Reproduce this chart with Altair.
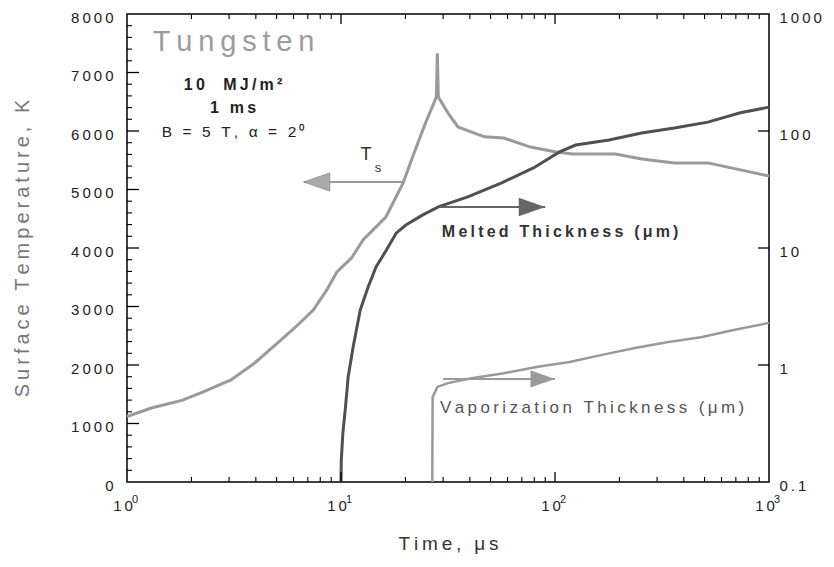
import altair as alt
import pandas as pd

# ---------------- data ----------------
# Surface temperature Ts (left axis, K) vs time (us)
ts_t = [1.0, 1.3, 1.82, 2.27, 3.06, 3.95, 4.92, 6.14, 7.42, 8.57, 9.57, 11.2, 12.7, 16.2, 19.5,
        21.6, 24.8, 27.9, 28.2, 28.5, 31.6, 35.2, 46.8, 57.7, 76.8, 101, 121, 191, 255, 361,
        518, 735, 1000]
ts_T = [1120, 1265, 1400, 1540, 1745, 2035, 2340, 2650, 2940, 3280, 3590, 3830, 4140, 4530, 5110,
        5555, 6135, 6580, 7330, 6580, 6310, 6070, 5900, 5880, 5725, 5640, 5605, 5605, 5520, 5455,
        5455, 5335, 5230]

# Melted thickness (right axis, um)
melt_t = [10.0, 10.03, 10.2, 10.5, 10.8, 11.4, 12.3, 13.4, 14.6, 16.3, 18.1, 20.1, 24.0, 28.5,
          39.1, 56.0, 79.3, 105, 125, 179, 254, 361, 518, 735, 1000]
melt_v = [0.1, 0.154, 0.26, 0.44, 0.79, 1.43, 2.95, 4.66, 6.92, 9.6, 13.4, 15.7, 19.1, 22.5,
          27.3, 35.9, 48.3, 66.2, 75.9, 83.8, 96.2, 106, 119, 143, 160]

# Vaporization thickness (right axis, um)
vap_t = [26.7, 26.8, 28.2, 31.6, 40.7, 57.7, 81.8, 117, 166, 236, 339, 481, 683, 1000]
vap_v = [0.1, 0.53, 0.65, 0.70, 0.77, 0.85, 0.96, 1.06, 1.22, 1.40, 1.57, 1.73, 1.99, 2.29]

# axes
left_vals = [0, 1000, 2000, 3000, 4000, 5000, 6000, 7000, 8000]
left_minor = [v for v in range(0, 8001, 200) if v % 1000]
right_vals = [0.1, 1, 10, 100, 1000]
right_marks = [1, 10, 100]
x_vals = [1, 10, 100, 1000]
x_base = ["10", "10", "10", "10"]
x_exp = ["0", "1", "2", "3"]
x_major_marks = [10, 100]
x_minor = [m * 10 ** e for e in range(3) for m in range(2, 10)]

# arrows: (start t, end/tip t, level)
ts_arrow = (19.5, 6.7, 5128)
melt_arrow = (29.0, 90.0, 22.4)
vap_arrow = (30.0, 100.0, 0.76)

# annotation anchors (t, value on left axis)
tung_pos = (1.32, 7368)
note_pos_t = 3.13
note_T = [6700, 6308, 5897]
tsym_pos = (13.1, 5504)
tsub_pos = (14.9, 5299)
melt_lab_pos = (29.6, 4188)
vap_lab_pos = (29.0, 1180)

# ---------------- helpers ----------------
TS = "\u2009"
NB = "\u00a0"
def sp(s):
    return TS.join(s.replace(" ", NB))

FONT = "Liberation Sans"
W, H = 642, 468

def label_expr(vals, labels):
    parts = [f"datum.value == {v} ? '{l}'" for v, l in zip(vals, labels)]
    return " : ".join(parts) + " : ''"

x_axis = alt.Axis(values=x_vals, ticks=False, domain=False, grid=False, labels=False,
                  title=sp("Time, \u03bcs"), titleFont=FONT, titleFontSize=19,
                  titleFontWeight="normal", titleColor="#333", titlePadding=52)
left_axis = alt.Axis(values=left_vals, ticks=False, domain=False, grid=False,
                     labelExpr=label_expr(left_vals, [sp(str(v)) for v in left_vals]),
                     labelFont=FONT, labelFontSize=15, labelColor="#222", labelPadding=14,
                     labelOffset=3, labelFlush=False, labelOverlap=False,
                     title=sp("Surface Temperature, K"), titleFont=FONT, titleFontSize=20,
                     titleFontWeight="normal", titleColor="#777",
                     titleX=-105, titleY=H / 2, titleAngle=270, titleBaseline="middle",
                     titleAlign="center")
right_axis = alt.Axis(orient="right", values=right_vals, ticks=False, domain=False, grid=False,
                      labelExpr=label_expr(right_vals, [sp(str(v)) for v in right_vals]),
                      labelFont=FONT, labelFontSize=15, labelColor="#222", labelPadding=10,
                      labelOffset=3, labelFlush=False, labelOverlap=False, title=None)

xsc = alt.Scale(type="log", domain=[1, 1000])
ylsc = alt.Scale(type="linear", domain=[0, 8000], nice=False, zero=False)
yrsc = alt.Scale(type="log", domain=[0.1, 1000], nice=False)

def X(f):
    return alt.X(f, type="quantitative", scale=xsc, axis=x_axis)

def YL(f, axis=None):
    return alt.Y(f, type="quantitative", scale=ylsc, axis=axis)

def YR(f, axis=None):
    return alt.Y(f, type="quantitative", scale=yrsc, axis=axis)

# ---------------- data frames ----------------
df_ts = pd.DataFrame({"t": ts_t, "v": ts_T, "i": range(len(ts_t))})
df_melt = pd.DataFrame({"t": melt_t, "v": melt_v, "i": range(len(melt_t))})
df_vap = pd.DataFrame({"t": vap_t, "v": vap_v, "i": range(len(vap_t))})
df_xlab = pd.DataFrame({"t": x_vals, "b": [sp(b) for b in x_base], "e": x_exp})

HEAD_R = "M0,0L-2,-0.7L-2,0.7Z"
HEAD_L = "M0,0L2,-0.7L2,0.7Z"

# ---------------- left-scale layers ----------------
ts_line = alt.Chart(df_ts).mark_line(color="#9a9a9a", strokeWidth=3).encode(
    x=X("t"), y=YL("v", left_axis), order="i:Q")

lmaj = alt.Chart(pd.DataFrame({"v": left_vals[1:-1]})).mark_rule(color="black", strokeWidth=1.3).encode(
    y=YL("v"), x=alt.value(0), x2=alt.value(12))
lmin = alt.Chart(pd.DataFrame({"v": left_minor})).mark_rule(color="black", strokeWidth=1.1).encode(
    y=YL("v"), x=alt.value(0), x2=alt.value(5))

bmaj = alt.Chart(pd.DataFrame({"t": x_major_marks})).mark_rule(color="black", strokeWidth=1.3).encode(
    x=X("t"), y=alt.value(H), y2=alt.value(H - 10))
bmin = alt.Chart(pd.DataFrame({"t": x_minor})).mark_rule(color="black", strokeWidth=1.1).encode(
    x=X("t"), y=alt.value(H), y2=alt.value(H - 5))
tmaj = alt.Chart(pd.DataFrame({"t": x_major_marks})).mark_rule(color="black", strokeWidth=1.3).encode(
    x=X("t"), y=alt.value(0), y2=alt.value(10))
tmin = alt.Chart(pd.DataFrame({"t": x_minor})).mark_rule(color="black", strokeWidth=1.1).encode(
    x=X("t"), y=alt.value(0), y2=alt.value(5))

# bottom tick labels: 10 with superscript exponent
xlab_base = alt.Chart(df_xlab).mark_text(font=FONT, fontSize=15, color="#222", align="center",
                                         baseline="alphabetic", dx=-4).encode(
    x=X("t"), y=alt.value(H + 29), text="b:N")
xlab_exp = alt.Chart(df_xlab).mark_text(font=FONT, fontSize=11, color="#222", align="left",
                                        baseline="alphabetic", dx=5).encode(
    x=X("t"), y=alt.value(H + 21), text="e:N")

df_tsa = pd.DataFrame({"t1": [ts_arrow[0]], "t2": [ts_arrow[1]], "v": [ts_arrow[2]]})
ts_arrow_line = alt.Chart(df_tsa).mark_rule(color="#999", strokeWidth=2).encode(
    x=X("t1"), x2="t2", y=YL("v"))
ts_arrow_head = alt.Chart(df_tsa).mark_point(shape=HEAD_L, size=676, filled=True, color="#aaa",
                                             opacity=1, stroke="#888", strokeWidth=0.8).encode(
    x=X("t2"), y=YL("v"))

def text_layer(pos_t, pos_v, txt, size, weight="normal", color="#222", align="left"):
    d = pd.DataFrame({"t": [pos_t], "v": [pos_v], "s": [txt]})
    return alt.Chart(d).mark_text(font=FONT, fontSize=size, fontWeight=weight, color=color,
                                  align=align, baseline="alphabetic").encode(
        x=X("t"), y=YL("v"), text="s:N")

tung = text_layer(tung_pos[0], tung_pos[1], sp("Tungsten"), 29, "normal", "#9c9c9c")
note1 = text_layer(note_pos_t, note_T[0], sp("10  MJ/m\u00b2"), 16, "bold", "#222", "center")
note2 = text_layer(note_pos_t, note_T[1], sp("1 ms"), 16, "bold", "#222", "center")
note3 = text_layer(note_pos_t, note_T[2], sp("B = 5 T, \u03b1 = 2\u2070"), 15.5, "normal", "#222", "center")
tsym = text_layer(tsym_pos[0], tsym_pos[1], "T", 18, "normal", "#333", "center")
tsub = text_layer(tsub_pos[0], tsub_pos[1], "s", 13, "normal", "#333", "center")
melt_lab = text_layer(melt_lab_pos[0], melt_lab_pos[1], sp("Melted Thickness (\u03bcm)"),
                      16, "bold", "#333")
vap_lab = text_layer(vap_lab_pos[0], vap_lab_pos[1], sp("Vaporization Thickness (\u03bcm)"),
                     17, "normal", "#555")

# ---------------- right-scale layers ----------------
melt_line = alt.Chart(df_melt).mark_line(color="#505050", strokeWidth=3).encode(
    x=X("t"), y=YR("v", right_axis), order="i:Q")
vap_line = alt.Chart(df_vap).mark_line(color="#999", strokeWidth=2.5).encode(
    x=X("t"), y=YR("v"), order="i:Q")

rmaj = alt.Chart(pd.DataFrame({"v": right_marks})).mark_rule(color="black", strokeWidth=1.3).encode(
    y=YR("v"), x=alt.value(W), x2=alt.value(W - 11))

df_ma = pd.DataFrame({"t1": [melt_arrow[0]], "t2": [melt_arrow[1]], "v": [melt_arrow[2]]})
melt_arrow_line = alt.Chart(df_ma).mark_rule(color="#666", strokeWidth=2).encode(
    x=X("t1"), x2="t2", y=YR("v"))
melt_arrow_head = alt.Chart(df_ma).mark_point(shape=HEAD_R, size=700, filled=True, color="#666",
                                              opacity=1).encode(x=X("t2"), y=YR("v"))

df_va = pd.DataFrame({"t1": [vap_arrow[0]], "t2": [vap_arrow[1]], "v": [vap_arrow[2]]})
vap_arrow_line = alt.Chart(df_va).mark_rule(color="#999", strokeWidth=2).encode(
    x=X("t1"), x2="t2", y=YR("v"))
vap_arrow_head = alt.Chart(df_va).mark_point(shape=HEAD_R, size=600, filled=True, color="#9a9a9a",
                                             opacity=1).encode(x=X("t2"), y=YR("v"))

layers = [ts_line, melt_line, vap_line,
          lmaj, lmin, bmaj, bmin, tmaj, tmin, rmaj, xlab_base, xlab_exp,
          ts_arrow_line, ts_arrow_head, melt_arrow_line, melt_arrow_head,
          vap_arrow_line, vap_arrow_head,
          tung, note1, note2, note3, tsym, tsub, melt_lab, vap_lab]

chart = alt.layer(*layers).resolve_scale(y="independent").properties(
    width=W, height=H,
    padding={"left": 119, "top": 6, "right": 57, "bottom": 77},
    autosize=alt.AutoSizeParams(type="none"),
    background="white",
).configure_view(stroke="black", strokeWidth=1.5)

chart.save("out.html", embed_options={"renderer": "svg", "actions": False})
